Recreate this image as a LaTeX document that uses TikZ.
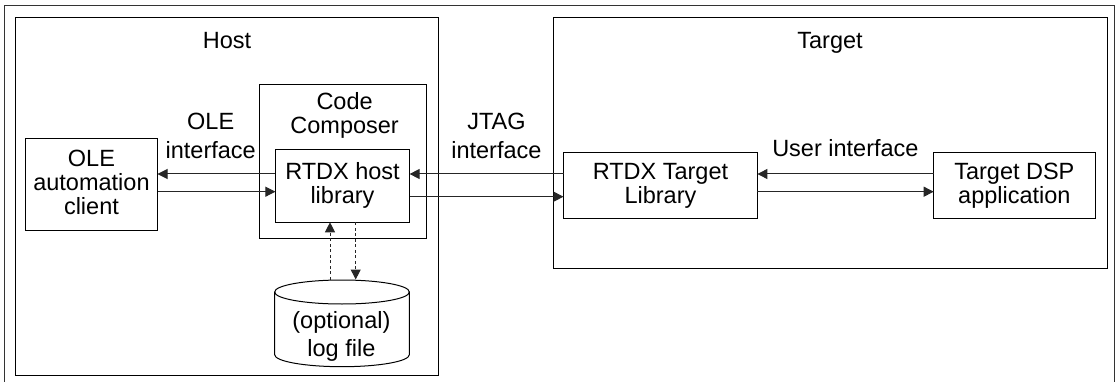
\documentclass[tikz,border=0pt]{standalone}
\usepackage{fontspec}
\setmainfont{Liberation Sans}
\usetikzlibrary{arrows.meta}
\tikzset{
  x=1pt,y=-1pt,
  txt/.style={font=\fontsize{23.5}{24}\selectfont,align=center,inner sep=0pt,outer sep=0pt},
  lbl/.style={txt,anchor=base},
  box/.style={txt,draw=black,line width=1pt,anchor=center},
  conn/.style={line width=1pt,draw=black!85,-{Triangle[length=10pt,width=10pt]}},
  dconn/.style={conn,dash pattern=on 3pt off 2.5pt},
}
\begin{document}
\begin{tikzpicture}
\useasboundingbox (0,0) rectangle (1115,382);
% outer frame, open at the bottom
\draw[line width=1pt,black!80] (4.6,382) -- (4.6,5.4) -- (1114,5.4) -- (1114,382);
% containers
\node[box,minimum width=422.9pt,minimum height=358pt] (host) at (227.15,196.7) {};
\node[box,minimum width=553.8pt,minimum height=250.3pt] (target) at (830.1,142.85) {};
\node[box,minimum width=166.8pt,minimum height=153.7pt] (cc) at (343,161.15) {};
% boxes
\node[box,minimum width=132.1pt,minimum height=91.6pt] (ole) at (91.45,184.5) {OLE\\automation\\client\rule[-5pt]{0pt}{5pt}};
\node[box,minimum width=134.2pt,minimum height=73pt] (rtdxh) at (342.5,185.8) {RTDX host\\library};
\node[box,minimum width=193.9pt,minimum height=65.6pt] (rtdxt) at (660.45,185.5) {RTDX Target\\Library};
\node[box,minimum width=161.3pt,minimum height=65.6pt] (dsp) at (1014.35,185.5) {Target DSP\\application};
% log-file cylinder: an undrawn node carries the outline's extent
\node[txt,minimum width=134.7pt,minimum height=86.7pt] (log) at (342,323.35) {};
\draw[line width=1pt,black] ([yshift=-12pt]log.north) circle[x radius=67.35pt,y radius=12pt];
\draw[line width=1pt,black] ([yshift=-12pt]log.north west) -- ([yshift=12pt]log.south west)
  arc[start angle=180,end angle=360,x radius=67.35pt,y radius=12pt] -- ([yshift=-12pt]log.north east);
% labels
\node[lbl] (hostl) at (227,48.7) {Host};
\node[lbl] (targetl) at (830,48.7) {Target};
\node[lbl] (ccl1) at (344.6,110) {Code};
\node[lbl] (ccl2) at (344.6,134) {Composer};
\node[lbl] (olel1) at (210.7,129.3) {OLE};
\node[lbl] (olel2) at (210.7,158.3) {interface};
\node[lbl] (jtl1) at (496.4,129.3) {JTAG};
\node[lbl] (jtl2) at (496.4,158.3) {interface};
\node[lbl] (usr) at (845.4,156.7) {User interface};
\node[lbl] (logl1) at (341.4,328) {(optional)};
\node[lbl] (logl2) at (341.4,356.7) {log file};
% connector levels
\coordinate (y1) at (0,174);
\coordinate (y2) at (0,191.7);
\coordinate (y3) at (0,196.7);
\coordinate (xu) at (330,0);
\coordinate (xd) at (355.7,0);
\coordinate (lt) at (0,279.5);
% connectors
\draw[conn] (rtdxh.west |- y1) -- (ole.east |- y1);
\draw[conn] (ole.east |- y2) -- (rtdxh.west |- y2);
\draw[conn] (rtdxt.west |- y1) -- (rtdxh.east |- y1);
\draw[conn] (rtdxh.east |- y3) -- (rtdxt.west |- y3);
\draw[conn] (dsp.west |- y1) -- (rtdxt.east |- y1);
\draw[conn] (rtdxt.east |- y2) -- (dsp.west |- y2);
\draw[dconn] (xu |- lt) -- (xu |- rtdxh.south);
\draw[dconn] (xd |- rtdxh.south) -- (xd |- lt);
\end{tikzpicture}
\end{document}
